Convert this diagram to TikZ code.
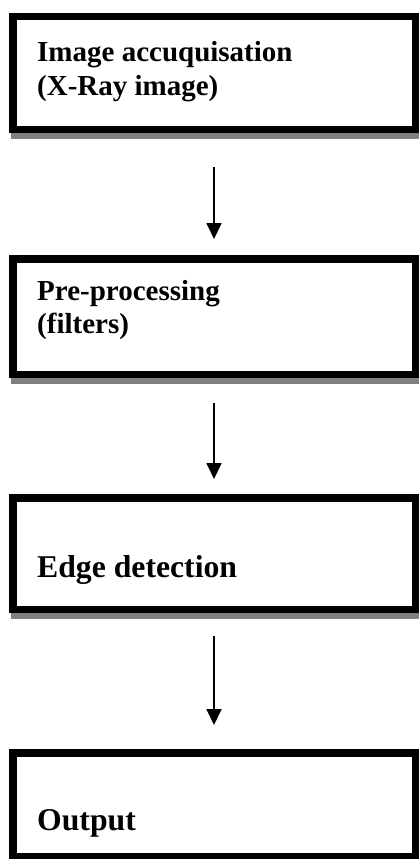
\documentclass[tikz,border=0pt]{standalone}
\usepackage{fontspec}
\setmainfont{Liberation Serif}
\usetikzlibrary{arrows.meta, shadows}

\begin{document}
\begin{tikzpicture}[x=1pt, y=-1pt,
        box/.style = {draw, fill=white, line width=7.5pt, minimum width=402.5pt, inner sep=0pt,
                      drop shadow={shadow xshift=2pt, shadow yshift=-6pt, fill=gray, draw=gray, line width=7.5pt, opacity=1}},
        txt/.style = {anchor=base west, inner sep=0pt, align=left, font=\fontsize{29}{33}\selectfont\bfseries},
        bigtxt/.style = {txt, font=\fontsize{31.7}{36}\selectfont\bfseries},
        flow/.style = {line width=1.8pt, -{Triangle[width=15pt, length=16pt]}}]
            \useasboundingbox (0,0) rectangle (418,859);

            \node[box, minimum height=112.5pt] (acq) at (214,73) {};
            \node[box, minimum height=115.5pt] (pre) at (214,316.5) {};
            \node[box, minimum height=111.5pt] (edge) at (214,553.5) {};
            \node[box, minimum height=103.5pt] (out) at (214,804.5) {};

            % base anchor sits on the last line
            \node[txt] (acqtxt) at (37,95) {Image accuquisation\\(X-Ray image)};
            \node[txt] (pretxt) at (37,333) {Pre-processing\\(filters)};
            \node[bigtxt] (edgetxt) at (37,577) {Edge detection};
            \node[bigtxt] (outtxt) at (37,830) {Output};

            \draw[flow, shorten <=34pt, shorten >=16pt] (acq.south) -- (pre.north);
            \draw[flow, shorten <=25pt, shorten >=15pt] (pre.south) -- (edge.north);
            \draw[flow, shorten <=23pt, shorten >=24pt] (edge.south) -- (out.north);
        \end{tikzpicture}
\end{document}
